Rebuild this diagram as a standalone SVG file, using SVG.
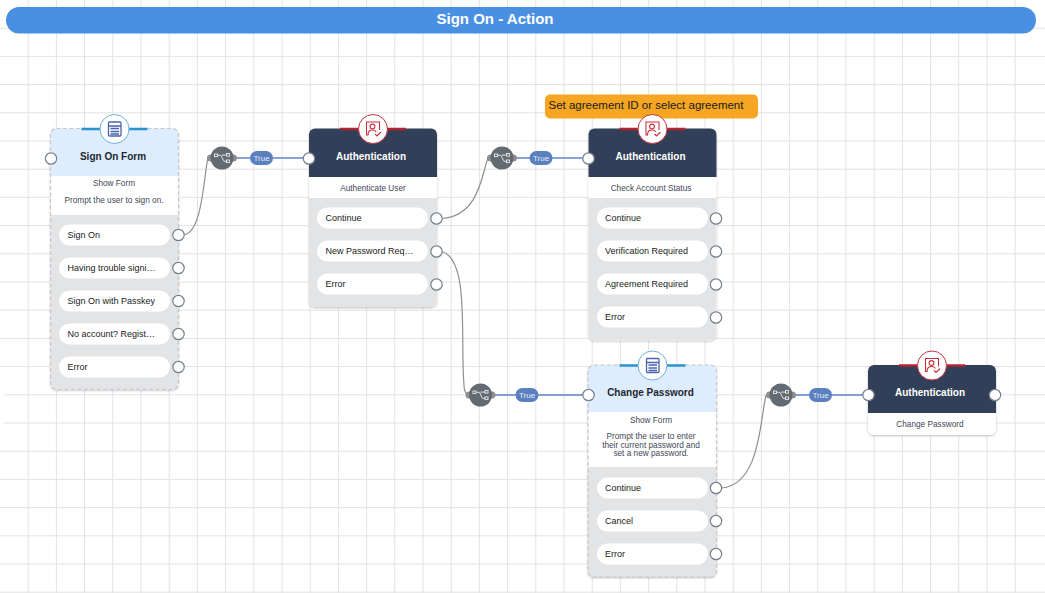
<svg xmlns="http://www.w3.org/2000/svg" width="1045" height="593" viewBox="0 0 1045 593">
<defs>
<style>
text{font-family:"Liberation Sans",Arial,sans-serif}
.grid{stroke:#e3e3e3;stroke-width:1;fill:none}
.t{font-size:10px;font-weight:700;text-anchor:middle}
.d{font-size:8.25px;fill:#3f4756;text-anchor:middle}
.p{font-size:9px;fill:#1a1a1a}
.pill{fill:#fff}
.port{fill:#fff;stroke:#76808f;stroke-width:1.2}
.grey{fill:#e3e4e6}
.curve{fill:none;stroke:#8f8f8f;stroke-width:1.2}
.blue{fill:none;stroke:#5d86c4;stroke-width:1.3}
.tp{fill:#5a80bf}
.tt{font-size:8px;fill:#e6ecf7;text-anchor:middle}
</style>
<filter id="sh" x="-10%" y="-10%" width="120%" height="120%"><feDropShadow dx="0" dy="1" stdDeviation="1.2" flood-color="#000" flood-opacity=".25"/></filter>
<g id="split">
<rect x="-15" y="-3.500" width="30" height="7" rx="3.500" fill="#8f8f8f"/>
<circle r="11.500" fill="#636b72"/>
<g fill="none" stroke="#e8eaec" stroke-width=".9"><rect x="-7.500" y="-4" width="3" height="2.600"/><rect x="4.500" y="-4.500" width="3" height="2.600"/><rect x="4.500" y="2" width="3" height="2.600"/><path d="M-4.500-2.700H-1L2 3.300H4.500M0-2.900H4.500"/></g>
</g>
<g id="formIcon">
<path d="M-33 0H33" stroke="#2b93d1" stroke-width="2.500" fill="none"/>
<circle r="14.500" fill="#fff" stroke="#6db0df" stroke-width="1"/>
<g fill="none" stroke="#4a62ad" stroke-width="1.300"><rect x="-6" y="-7" width="12.500" height="14" rx="1"/><path d="M-6-3H6.500M-4-.5H4.500M-4 2.500H4.500M-4 5H4.500"/></g>
</g>
<g id="authIcon">
<path d="M-33 0H33" stroke="#b3242f" stroke-width="2.500" fill="none"/>
<circle r="14.500" fill="#fff" stroke="#c8323c" stroke-width="1"/>
<g fill="none" stroke="#c8323c" stroke-width="1.100"><path d="M-4.500 6H-6.500V-7H6.500V1"/><circle cx="-.5" cy="-2.500" r="2.400"/><path d="M-5 6C-5 2-3 1-.5 1S3 2 3 3M2 5l2 2 4-4"/></g>
</g>
</defs>
<rect width="1045" height="593" fill="#fff"/>
<g id="grid" class="grid">
<path d="M28.200 0V593M56.400 0V593M84.600 0V593M112.800 0V593M141 0V593M169.200 0V593M197.400 0V593M225.600 0V593M253.800 0V593M282 0V593M310.200 0V593M338.400 0V593M366.600 0V593M394.800 0V593M423 0V593M451.200 0V593M479.400 0V593M507.600 0V593M535.800 0V593M564 0V593M592.200 0V593M620.400 0V593M648.600 0V593M676.800 0V593M705 0V593M733.200 0V593M761.400 0V593M789.600 0V593M817.800 0V593M846 0V593M874.200 0V593M902.400 0V593M930.600 0V593M958.800 0V593M987 0V593M1015.200 0V593"/>
<path d="M0 28.200H1045M0 56.400H1045M0 84.600H1045M0 112.800H1045M0 141H1045M0 169.200H1045M0 197.400H1045M0 225.600H1045M0 253.800H1045M0 282H1045M0 310.200H1045M0 338.400H1045M0 366.600H1045M0 394.800H1045M0 423H1045M0 451.200H1045M0 479.400H1045M0 507.600H1045M0 535.800H1045M0 564H1045M0 592.200H1045"/>
</g>
<rect x="0" y="373" width="4" height="57" fill="#fff"/>
<g id="title">
<rect x="6" y="7" width="1030" height="26.500" rx="13.200" fill="#4a90e2"/>
<text x="495" y="24" font-size="15" font-weight="700" fill="#fff" text-anchor="middle">Sign On - Action</text>
</g>
<g id="note">
<rect x="545" y="94.500" width="213" height="24" rx="5" fill="#f6a623"/>
<text x="548.500" y="109" font-size="11.500" fill="#1a1a1a">Set agreement ID or select agreement</text>
</g>
<g id="node-sign-on-form">
<rect x="50.500" y="128.500" width="128" height="261" rx="6" fill="#fff" filter="url(#sh)"/>
<path d="M50.500 176V134.500a6 6 0 0 1 6-6H172.500a6 6 0 0 1 6 6V176Z" fill="#deedfd"/>
<path d="M50.500 215H178.500V383.500a6 6 0 0 1-6 6H56.500a6 6 0 0 1-6-6Z" class="grey"/>
<rect x="50.500" y="128.500" width="128" height="261" rx="6" fill="none" stroke="#c4c7cc" stroke-width="1.200" stroke-dasharray="4 2.500"/>
<use href="#formIcon" x="114.500" y="129"/>
<text class="t" x="113" y="160" fill="#23272e">Sign On Form</text>
<text class="d" x="114" y="186">Show Form</text>
<text class="d" x="114" y="203">Prompt the user to sign on.</text>
<rect class="pill" x="59" y="224.500" width="111" height="21" rx="10.500"/><text class="p" x="67.500" y="238">Sign On</text>
<rect class="pill" x="59" y="257.500" width="111" height="21" rx="10.500"/><text class="p" x="67.500" y="271">Having trouble signi…</text>
<rect class="pill" x="59" y="290.500" width="111" height="21" rx="10.500"/><text class="p" x="67.500" y="304">Sign On with Passkey</text>
<rect class="pill" x="59" y="323.500" width="111" height="21" rx="10.500"/><text class="p" x="67.500" y="337">No account? Regist…</text>
<rect class="pill" x="59" y="356.500" width="111" height="21" rx="10.500"/><text class="p" x="67.500" y="370">Error</text>
<circle class="port" cx="51" cy="158.500" r="5.700"/>
<circle class="port" cx="178.500" cy="235" r="5.700"/><circle class="port" cx="178.500" cy="268" r="5.700"/><circle class="port" cx="178.500" cy="301" r="5.700"/><circle class="port" cx="178.500" cy="334" r="5.700"/><circle class="port" cx="178.500" cy="367" r="5.700"/>
</g>
<g id="node-auth-user">
<rect x="309" y="128.500" width="128" height="178.500" rx="6" fill="#fff" filter="url(#sh)"/>
<path d="M309 177V134.500a6 6 0 0 1 6-6H431a6 6 0 0 1 6 6V177Z" fill="#314058"/>
<path d="M309 198H437V301a6 6 0 0 1-6 6H315a6 6 0 0 1-6-6Z" class="grey"/>
<use href="#authIcon" x="373" y="129"/>
<text class="t" x="371" y="160" fill="#fff">Authentication</text>
<text class="d" x="373" y="190.500">Authenticate User</text>
<rect class="pill" x="317" y="207.500" width="111" height="21" rx="10.500"/><text class="p" x="325.500" y="221">Continue</text>
<rect class="pill" x="317" y="240.500" width="111" height="21" rx="10.500"/><text class="p" x="325.500" y="254">New Password Req…</text>
<rect class="pill" x="317" y="273.500" width="111" height="21" rx="10.500"/><text class="p" x="325.500" y="287">Error</text>
<circle class="port" cx="436.500" cy="218.500" r="5.700"/><circle class="port" cx="436.500" cy="251.500" r="5.700"/><circle class="port" cx="436.500" cy="284.500" r="5.700"/>
</g>
<g id="node-auth-status">
<rect x="588.500" y="128.500" width="128" height="212" rx="6" fill="#fff" filter="url(#sh)"/>
<path d="M588.500 177V134.500a6 6 0 0 1 6-6H710.500a6 6 0 0 1 6 6V177Z" fill="#314058"/>
<path d="M588.500 198H716.500V334.500a6 6 0 0 1-6 6H594.500a6 6 0 0 1-6-6Z" class="grey"/>
<use href="#authIcon" x="652.500" y="129"/>
<text class="t" x="650.500" y="160" fill="#fff">Authentication</text>
<text class="d" x="651" y="190.500">Check Account Status</text>
<rect class="pill" x="597" y="207.500" width="111" height="21" rx="10.500"/><text class="p" x="605" y="221">Continue</text>
<rect class="pill" x="597" y="240.500" width="111" height="21" rx="10.500"/><text class="p" x="605" y="254">Verification Required</text>
<rect class="pill" x="597" y="273.500" width="111" height="21" rx="10.500"/><text class="p" x="605" y="287">Agreement Required</text>
<rect class="pill" x="597" y="306.500" width="111" height="21" rx="10.500"/><text class="p" x="605" y="320">Error</text>
<circle class="port" cx="716" cy="218.500" r="5.700"/><circle class="port" cx="716" cy="251.500" r="5.700"/><circle class="port" cx="716" cy="284.500" r="5.700"/><circle class="port" cx="716" cy="317.500" r="5.700"/>
</g>
<g id="node-change-password">
<rect x="588" y="365" width="128.500" height="212" rx="6" fill="#fff" filter="url(#sh)"/>
<path d="M588 412V371a6 6 0 0 1 6-6H710.500a6 6 0 0 1 6 6V412Z" fill="#deedfd"/>
<path d="M588 467H716.500V571a6 6 0 0 1-6 6H594a6 6 0 0 1-6-6Z" class="grey"/>
<rect x="588" y="365" width="128.500" height="212" rx="6" fill="none" stroke="#c4c7cc" stroke-width="1.200" stroke-dasharray="4 2.500"/>
<use href="#formIcon" x="652.500" y="365.500"/>
<text class="t" x="650.500" y="396" fill="#23272e">Change Password</text>
<text class="d" x="651" y="423">Show Form</text>
<text class="d" x="651" y="439">Prompt the user to enter</text>
<text class="d" x="651" y="447.500">their current password and</text>
<text class="d" x="651" y="456">set a new password.</text>
<rect class="pill" x="597" y="477.500" width="111" height="21" rx="10.500"/><text class="p" x="605" y="491">Continue</text>
<rect class="pill" x="597" y="510.500" width="111" height="21" rx="10.500"/><text class="p" x="605" y="524">Cancel</text>
<rect class="pill" x="597" y="543.500" width="111" height="21" rx="10.500"/><text class="p" x="605" y="557">Error</text>
<circle class="port" cx="716" cy="488" r="5.700"/><circle class="port" cx="716" cy="521" r="5.700"/><circle class="port" cx="716" cy="554" r="5.700"/>
</g>
<g id="node-auth-change">
<rect x="868" y="365" width="128" height="70" rx="6" fill="#fff" filter="url(#sh)"/>
<path d="M868 413V371a6 6 0 0 1 6-6H990a6 6 0 0 1 6 6V413Z" fill="#314058"/>
<use href="#authIcon" x="932" y="365.500"/>
<text class="t" x="930" y="396" fill="#fff">Authentication</text>
<text class="d" x="930" y="427">Change Password</text>
<circle class="port" cx="995" cy="395" r="5.700"/>
</g>
<g id="connectors">
<path class="curve" d="M184 235C203 232 204 172 208 158"/>
<path class="curve" d="M442 218.500C480 216 482 172 488 158"/>
<path class="curve" d="M442 251.500C470 260 460 340 464 385Q464 395 470 395"/>
<path class="curve" d="M721.500 488C760 485 760 420 766 395"/>
<path class="blue" d="M233 158H303"/>
<path class="blue" d="M513 158H583"/>
<path class="blue" d="M492 395H583"/>
<path class="blue" d="M792 395H863"/>
<use href="#split" x="222" y="158"/>
<use href="#split" x="502" y="158"/>
<use href="#split" x="480.500" y="395"/>
<use href="#split" x="781" y="395"/>
<rect class="tp" x="250" y="151" width="23" height="14" rx="7"/><text class="tt" x="261.500" y="161">True</text>
<rect class="tp" x="529.500" y="151" width="23" height="14" rx="7"/><text class="tt" x="541" y="161">True</text>
<rect class="tp" x="515.500" y="388" width="23" height="14" rx="7"/><text class="tt" x="527" y="398">True</text>
<rect class="tp" x="809" y="388" width="23" height="14" rx="7"/><text class="tt" x="820.500" y="398">True</text>
<circle class="port" cx="309" cy="158.500" r="5.700"/>
<circle class="port" cx="588.500" cy="158.500" r="5.700"/>
<circle class="port" cx="588.500" cy="395" r="5.700"/>
<circle class="port" cx="868.500" cy="395" r="5.700"/>
</g>
</svg>
